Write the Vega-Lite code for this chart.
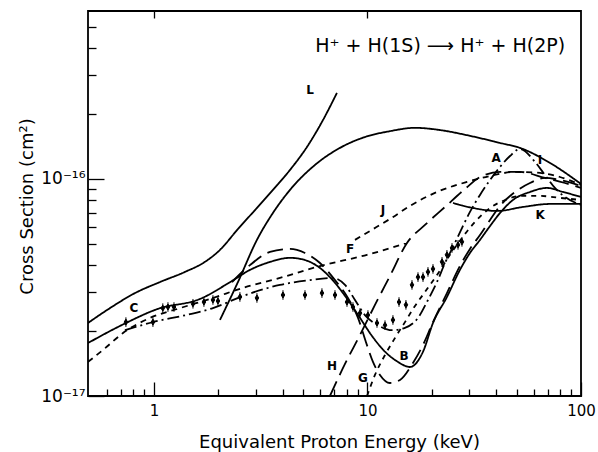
{
  "$schema": "https://vega.github.io/schema/vega-lite/v6.json",
  "width": 493,
  "height": 385,
  "autosize": {"type": "none"},
  "padding": {"left": 88, "top": 11, "right": 17, "bottom": 56},
  "background": "white",
  "config": {
    "font": "DejaVu Sans",
    "view": {"stroke": "black", "strokeWidth": 1.8},
    "axis": {"domain": false, "grid": false, "tickColor": "black", "labelColor": "black", "titleColor": "black", "tickWidth": 1.3, "labelFont": "DejaVu Sans", "titleFont": "DejaVu Sans"}
  },
  "datasets": {
    "curves": [
      {"c": "L", "e": 0.491, "s": 2.17e-17}, {"c": "L", "e": 0.622, "s": 2.54e-17}, {"c": "L", "e": 0.815, "s": 2.98e-17}, {"c": "L", "e": 1.067, "s": 3.35e-17}, {"c": "L", "e": 1.397, "s": 3.73e-17}, {"c": "L", "e": 1.733, "s": 4.15e-17}, {"c": "L", "e": 2.037, "s": 4.71e-17}, {"c": "L", "e": 2.474, "s": 5.88e-17}, {"c": "L", "e": 3.004, "s": 7.27e-17}, {"c": "L", "e": 3.607, "s": 8.9e-17}, {"c": "L", "e": 4.335, "s": 1.1e-16}, {"c": "L", "e": 5.207, "s": 1.404e-16}, {"c": "L", "e": 6.12, "s": 1.831e-16}, {"c": "L", "e": 7.19, "s": 2.49e-16},
      {"c": "I", "e": 2.037, "s": 2.24e-17}, {"c": "I", "e": 2.474, "s": 3.35e-17}, {"c": "I", "e": 3.036, "s": 5.24e-17}, {"c": "I", "e": 3.607, "s": 6.97e-17}, {"c": "I", "e": 4.335, "s": 8.9e-17}, {"c": "I", "e": 5.675, "s": 1.16e-16}, {"c": "I", "e": 7.43, "s": 1.39e-16}, {"c": "I", "e": 9.73, "s": 1.56e-16}, {"c": "I", "e": 12.74, "s": 1.66e-16}, {"c": "I", "e": 16.69, "s": 1.72e-16}, {"c": "I", "e": 21.86, "s": 1.68e-16}, {"c": "I", "e": 30.2, "s": 1.58e-16}, {"c": "I", "e": 41.75, "s": 1.465e-16}, {"c": "I", "e": 51.8, "s": 1.39e-16}, {"c": "I", "e": 71.6, "s": 1.185e-16}, {"c": "I", "e": 100, "s": 9.48e-17},
      {"c": "C", "e": 0.491, "s": 1.754e-17}, {"c": "C", "e": 0.708, "s": 2.124e-17}, {"c": "C", "e": 1.044, "s": 2.52e-17}, {"c": "C", "e": 1.643, "s": 2.8e-17}, {"c": "C", "e": 2.32, "s": 3.39e-17}, {"c": "C", "e": 2.816, "s": 3.81e-17}, {"c": "C", "e": 3.494, "s": 4.145e-17}, {"c": "C", "e": 4.335, "s": 4.33e-17}, {"c": "C", "e": 5.097, "s": 4.23e-17}, {"c": "C", "e": 5.991, "s": 3.89e-17}, {"c": "C", "e": 7.045, "s": 3.32e-17}, {"c": "C", "e": 8.1, "s": 2.77e-17}, {"c": "C", "e": 9.225, "s": 2.29e-17}, {"c": "C", "e": 10.5, "s": 1.89e-17}, {"c": "C", "e": 12.08, "s": 1.6e-17}, {"c": "C", "e": 13.9, "s": 1.435e-17}, {"c": "C", "e": 15.81, "s": 1.36e-17}, {"c": "C", "e": 18.2, "s": 1.6e-17}, {"c": "C", "e": 20.27, "s": 2.17e-17}, {"c": "C", "e": 23.56, "s": 2.86e-17}, {"c": "C", "e": 27.1, "s": 3.81e-17}, {"c": "C", "e": 30.2, "s": 4.56e-17}, {"c": "C", "e": 33.65, "s": 5.24e-17}, {"c": "C", "e": 37.5, "s": 6.07e-17}, {"c": "C", "e": 41.75, "s": 6.97e-17}, {"c": "C", "e": 48.0, "s": 8.0e-17}, {"c": "C", "e": 57.7, "s": 8.71e-17}, {"c": "C", "e": 69.3, "s": 9.09e-17}, {"c": "C", "e": 82.4, "s": 8.71e-17}, {"c": "C", "e": 100, "s": 8.26e-17},
      {"c": "G", "e": 2.32, "s": 3.35e-17}, {"c": "G", "e": 2.816, "s": 4.01e-17}, {"c": "G", "e": 3.494, "s": 4.61e-17}, {"c": "G", "e": 4.335, "s": 4.76e-17}, {"c": "G", "e": 5.097, "s": 4.56e-17}, {"c": "G", "e": 5.991, "s": 4.1e-17}, {"c": "G", "e": 7.045, "s": 3.42e-17}, {"c": "G", "e": 8.1, "s": 2.83e-17}, {"c": "G", "e": 9.03, "s": 2.29e-17}, {"c": "G", "e": 9.84, "s": 1.77e-17}, {"c": "G", "e": 10.61, "s": 1.435e-17}, {"c": "G", "e": 11.44, "s": 1.25e-17}, {"c": "G", "e": 12.74, "s": 1.148e-17}, {"c": "G", "e": 14.2, "s": 1.185e-17}, {"c": "G", "e": 16.33, "s": 1.42e-17}, {"c": "G", "e": 18.2, "s": 1.72e-17}, {"c": "G", "e": 20.27, "s": 2.19e-17}, {"c": "G", "e": 23.56, "s": 2.98e-17}, {"c": "G", "e": 27.1, "s": 3.97e-17}, {"c": "G", "e": 30.2, "s": 4.76e-17}, {"c": "G", "e": 33.65, "s": 5.52e-17}, {"c": "G", "e": 37.5, "s": 6.47e-17}, {"c": "G", "e": 41.75, "s": 7.51e-17}, {"c": "G", "e": 49.1, "s": 8.71e-17}, {"c": "G", "e": 57.7, "s": 9.58e-17}, {"c": "G", "e": 67.8, "s": 1.011e-16}, {"c": "G", "e": 79.7, "s": 9.89e-17}, {"c": "G", "e": 100, "s": 9.28e-17},
      {"c": "H", "e": 6.67, "s": 1.0e-17}, {"c": "H", "e": 7.846, "s": 1.405e-17}, {"c": "H", "e": 9.225, "s": 1.91e-17}, {"c": "H", "e": 10.84, "s": 2.627e-17}, {"c": "H", "e": 12.74, "s": 3.57e-17}, {"c": "H", "e": 15.31, "s": 5.07e-17}, {"c": "H", "e": 18.59, "s": 6.14e-17}, {"c": "H", "e": 23.07, "s": 7.43e-17}, {"c": "H", "e": 28.62, "s": 8.99e-17}, {"c": "H", "e": 33.65, "s": 1.021e-16}, {"c": "H", "e": 41.75, "s": 1.077e-16}, {"c": "H", "e": 51.8, "s": 1.077e-16}, {"c": "H", "e": 67.8, "s": 1.011e-16}, {"c": "H", "e": 84.1, "s": 9.58e-17}, {"c": "H", "e": 100, "s": 9.09e-17},
      {"c": "F", "e": 0.491, "s": 1.435e-17}, {"c": "F", "e": 0.59, "s": 1.66e-17}, {"c": "F", "e": 0.716, "s": 1.95e-17}, {"c": "F", "e": 0.958, "s": 2.29e-17}, {"c": "F", "e": 1.324, "s": 2.54e-17}, {"c": "F", "e": 1.889, "s": 2.83e-17}, {"c": "F", "e": 2.612, "s": 3.15e-17}, {"c": "F", "e": 3.89, "s": 3.5e-17}, {"c": "F", "e": 5.991, "s": 3.97e-17}, {"c": "F", "e": 9.95, "s": 4.47e-17}, {"c": "F", "e": 15.31, "s": 5.07e-17},
      {"c": "A", "e": 0.731, "s": 2.01e-17}, {"c": "A", "e": 0.989, "s": 2.19e-17}, {"c": "A", "e": 1.412, "s": 2.36e-17}, {"c": "A", "e": 1.889, "s": 2.54e-17}, {"c": "A", "e": 2.612, "s": 2.89e-17}, {"c": "A", "e": 3.89, "s": 3.25e-17}, {"c": "A", "e": 5.38, "s": 3.42e-17}, {"c": "A", "e": 6.89, "s": 3.5e-17}, {"c": "A", "e": 7.846, "s": 3.25e-17}, {"c": "A", "e": 8.74, "s": 2.77e-17}, {"c": "A", "e": 9.73, "s": 2.36e-17}, {"c": "A", "e": 11.2, "s": 2.12e-17}, {"c": "A", "e": 13.02, "s": 2.01e-17}, {"c": "A", "e": 14.98, "s": 2.06e-17}, {"c": "A", "e": 17.24, "s": 2.29e-17}, {"c": "A", "e": 19.2, "s": 2.77e-17}, {"c": "A", "e": 21.16, "s": 3.35e-17}, {"c": "A", "e": 23.07, "s": 4.1e-17}, {"c": "A", "e": 25.15, "s": 4.86e-17}, {"c": "A", "e": 27.7, "s": 5.94e-17}, {"c": "A", "e": 30.2, "s": 7.05e-17}, {"c": "A", "e": 33.65, "s": 8.44e-17}, {"c": "A", "e": 37.5, "s": 9.89e-17}, {"c": "A", "e": 41.75, "s": 1.136e-16}, {"c": "A", "e": 46.5, "s": 1.276e-16}, {"c": "A", "e": 51.8, "s": 1.375e-16}, {"c": "A", "e": 60.9, "s": 1.198e-16}, {"c": "A", "e": 67.8, "s": 1.043e-16}, {"c": "A", "e": 75.5, "s": 9.09e-17}, {"c": "A", "e": 84.1, "s": 8.26e-17}, {"c": "A", "e": 100, "s": 7.59e-17},
      {"c": "D", "e": 9.95, "s": 1.0e-17}, {"c": "D", "e": 10.84, "s": 1.25e-17}, {"c": "D", "e": 12.08, "s": 1.545e-17}, {"c": "D", "e": 13.45, "s": 1.85e-17}, {"c": "D", "e": 14.98, "s": 2.19e-17}, {"c": "D", "e": 16.69, "s": 2.6e-17}, {"c": "D", "e": 18.59, "s": 3.015e-17}, {"c": "D", "e": 21.16, "s": 3.61e-17}, {"c": "D", "e": 24.34, "s": 4.47e-17}, {"c": "D", "e": 27.7, "s": 5.35e-17}, {"c": "D", "e": 31.9, "s": 6.34e-17}, {"c": "D", "e": 37.5, "s": 7.35e-17}, {"c": "D", "e": 44.1, "s": 8.0e-17}, {"c": "D", "e": 51.8, "s": 8.35e-17}, {"c": "D", "e": 64.3, "s": 8.35e-17}, {"c": "D", "e": 79.7, "s": 8.18e-17}, {"c": "D", "e": 100, "s": 8.0e-17},
      {"c": "J", "e": 8.74, "s": 5.24e-17}, {"c": "J", "e": 10.27, "s": 5.76e-17}, {"c": "J", "e": 12.74, "s": 6.54e-17}, {"c": "J", "e": 15.81, "s": 7.51e-17}, {"c": "J", "e": 21.16, "s": 8.71e-17}, {"c": "J", "e": 29.24, "s": 9.69e-17}, {"c": "J", "e": 37.5, "s": 1.032e-16}, {"c": "J", "e": 49.1, "s": 1.077e-16}, {"c": "J", "e": 64.3, "s": 1.066e-16}, {"c": "J", "e": 79.7, "s": 1.021e-16}, {"c": "J", "e": 100, "s": 9.38e-17},
      {"c": "K", "e": 25.15, "s": 7.75e-17}, {"c": "K", "e": 31.2, "s": 7.35e-17}, {"c": "K", "e": 40.44, "s": 7.12e-17}, {"c": "K", "e": 53.5, "s": 7.43e-17}, {"c": "K", "e": 71.6, "s": 7.67e-17}, {"c": "K", "e": 100, "s": 7.67e-17}
    ],
    "pts": [
      {"e": 0.739, "s": 2.19e-17}, {"e": 0.989, "s": 2.19e-17}, {"e": 1.1, "s": 2.54e-17}, {"e": 1.163, "s": 2.57e-17}, {"e": 1.241, "s": 2.57e-17}, {"e": 1.523, "s": 2.66e-17}, {"e": 1.714, "s": 2.71e-17}, {"e": 1.889, "s": 2.77e-17}, {"e": 1.994, "s": 2.74e-17}, {"e": 2.527, "s": 2.86e-17}, {"e": 3.036, "s": 2.83e-17}, {"e": 4.02, "s": 2.92e-17}, {"e": 5.097, "s": 2.92e-17}, {"e": 6.12, "s": 2.98e-17}, {"e": 7.045, "s": 2.92e-17}, {"e": 8.017, "s": 2.71e-17}, {"e": 8.55, "s": 2.57e-17}, {"e": 9.225, "s": 2.41e-17}, {"e": 10.05, "s": 2.36e-17}, {"e": 11.08, "s": 2.17e-17}, {"e": 12.08, "s": 2.12e-17}, {"e": 13.16, "s": 2.24e-17}, {"e": 14.05, "s": 2.71e-17}, {"e": 15.14, "s": 2.63e-17}, {"e": 16.16, "s": 3.25e-17}, {"e": 17.24, "s": 3.53e-17}, {"e": 18.2, "s": 3.53e-17}, {"e": 19.2, "s": 3.73e-17}, {"e": 20.27, "s": 3.85e-17}, {"e": 22.34, "s": 4.15e-17}, {"e": 23.56, "s": 4.47e-17}, {"e": 24.88, "s": 4.81e-17}, {"e": 26.55, "s": 4.97e-17}, {"e": 27.7, "s": 5.13e-17}
    ],
    "labels": [
      {"t": "L", "e": 5.38, "s": 2.57e-16}, {"t": "I", "e": 64.3, "s": 1.223e-16}, {"t": "A", "e": 40.0, "s": 1.25e-16}, {"t": "J", "e": 11.82, "s": 7.2e-17}, {"t": "F", "e": 8.28, "s": 4.76e-17}, {"t": "C", "e": 0.806, "s": 2.54e-17}, {"t": "K", "e": 64.3, "s": 6.82e-17}, {"t": "B", "e": 14.83, "s": 1.53e-17}, {"t": "H", "e": 6.82, "s": 1.375e-17}, {"t": "G", "e": 9.53, "s": 1.21e-17}
    ],
    "title": [
      {"t": "H⁺ + H(1S) ⟶ H⁺ + H(2P)", "e": 21.9, "s": 4.1e-16}
    ]
  },
  "layer": [
    {
      "data": {"name": "curves"},
      "mark": {"type": "line", "color": "black", "strokeWidth": 1.8, "interpolate": "monotone", "clip": true},
      "encoding": {
        "x": {"field": "e", "type": "quantitative", "scale": {"type": "log", "domain": [0.491, 100], "nice": false},
          "axis": {"orient": "bottom", "values": [1, 10, 100], "tickSize": -14, "labelPadding": 21, "labelFontSize": 15, "labelFlush": false, "labelOverlap": false, "labelExpr": "format(datum.value, '~g')",
            "title": "Equivalent  Proton  Energy  (keV)", "titleFontSize": 18, "titleFontWeight": "normal", "titleX": 251, "titleY": 51, "titleBaseline": "alphabetic", "titleAlign": "center"}},
        "y": {"field": "s", "type": "quantitative", "scale": {"type": "log", "domain": [1e-17, 5.94e-16], "nice": false},
          "axis": {"orient": "left", "values": [1e-17, 1e-16], "tickSize": -16, "labelPadding": 19, "labelFontSize": 17, "labelFlush": false, "labelOverlap": false, "labelExpr": "datum.value < 5e-17 ? '10⁻¹⁷' : '10⁻¹⁶'",
            "title": "Cross  Section  (cm²)", "titleFontSize": 18, "titleFontWeight": "normal", "titleX": -56, "titleY": 195, "titleAngle": -90, "titleBaseline": "alphabetic", "titleAlign": "center"}},
        "detail": {"field": "c", "type": "nominal"},
        "strokeDash": {"field": "c", "type": "nominal", "legend": null,
          "scale": {"domain": ["L", "I", "C", "K", "G", "H", "F", "J", "D", "A"],
            "range": [[1, 0], [1, 0], [1, 0], [1, 0], [16, 7], [16, 7], [6, 5], [6, 5], [5, 5], [12, 4, 2, 4]]}}
      }
    },
    {
      "data": {"name": "pts"},
      "mark": {"type": "point", "shape": "M0,-1.6L0,1.6M0,-1L0.6,0L0,1L-0.6,0Z", "filled": true, "color": "black", "stroke": "black", "strokeWidth": 1, "size": 36, "opacity": 1},
      "encoding": {
        "x": {"field": "e", "type": "quantitative", "scale": {"type": "log", "domain": [0.491, 100], "nice": false},
          "axis": {"orient": "bottom", "values": [0.6, 0.7, 0.8, 0.9, 2, 3, 4, 5, 6, 7, 8, 9, 20, 30, 40, 50, 60, 70, 80, 90], "tickSize": -7, "labels": false, "title": null}},
        "y": {"field": "s", "type": "quantitative", "scale": {"type": "log", "domain": [1e-17, 5.94e-16], "nice": false},
          "axis": {"orient": "left", "values": [2e-17, 3e-17, 4e-17, 5e-17, 6e-17, 7e-17, 8e-17, 9e-17, 2e-16, 3e-16, 4e-16, 5e-16], "tickSize": -8, "labels": false, "title": null}}
      }
    },
    {
      "data": {"name": "labels"},
      "mark": {"type": "text", "color": "black", "fontSize": 12, "fontWeight": "bold", "font": "DejaVu Sans", "align": "center", "baseline": "middle"},
      "encoding": {
        "x": {"field": "e", "type": "quantitative", "scale": {"type": "log", "domain": [0.491, 100], "nice": false},
          "axis": {"orient": "top", "values": [1, 10], "tickSize": -7, "labels": false, "title": null}},
        "y": {"field": "s", "type": "quantitative", "scale": {"type": "log", "domain": [1e-17, 5.94e-16], "nice": false}, "axis": null},
        "text": {"field": "t"}
      }
    },
    {
      "data": {"name": "title"},
      "mark": {"type": "text", "color": "black", "fontSize": 19, "font": "DejaVu Sans", "align": "center", "baseline": "middle"},
      "encoding": {
        "x": {"field": "e", "type": "quantitative", "scale": {"type": "log", "domain": [0.491, 100], "nice": false}, "axis": null},
        "y": {"field": "s", "type": "quantitative", "scale": {"type": "log", "domain": [1e-17, 5.94e-16], "nice": false}, "axis": null},
        "text": {"field": "t"}
      }
    }
  ],
  "resolve": {"axis": {"x": "independent", "y": "independent"}}
}
